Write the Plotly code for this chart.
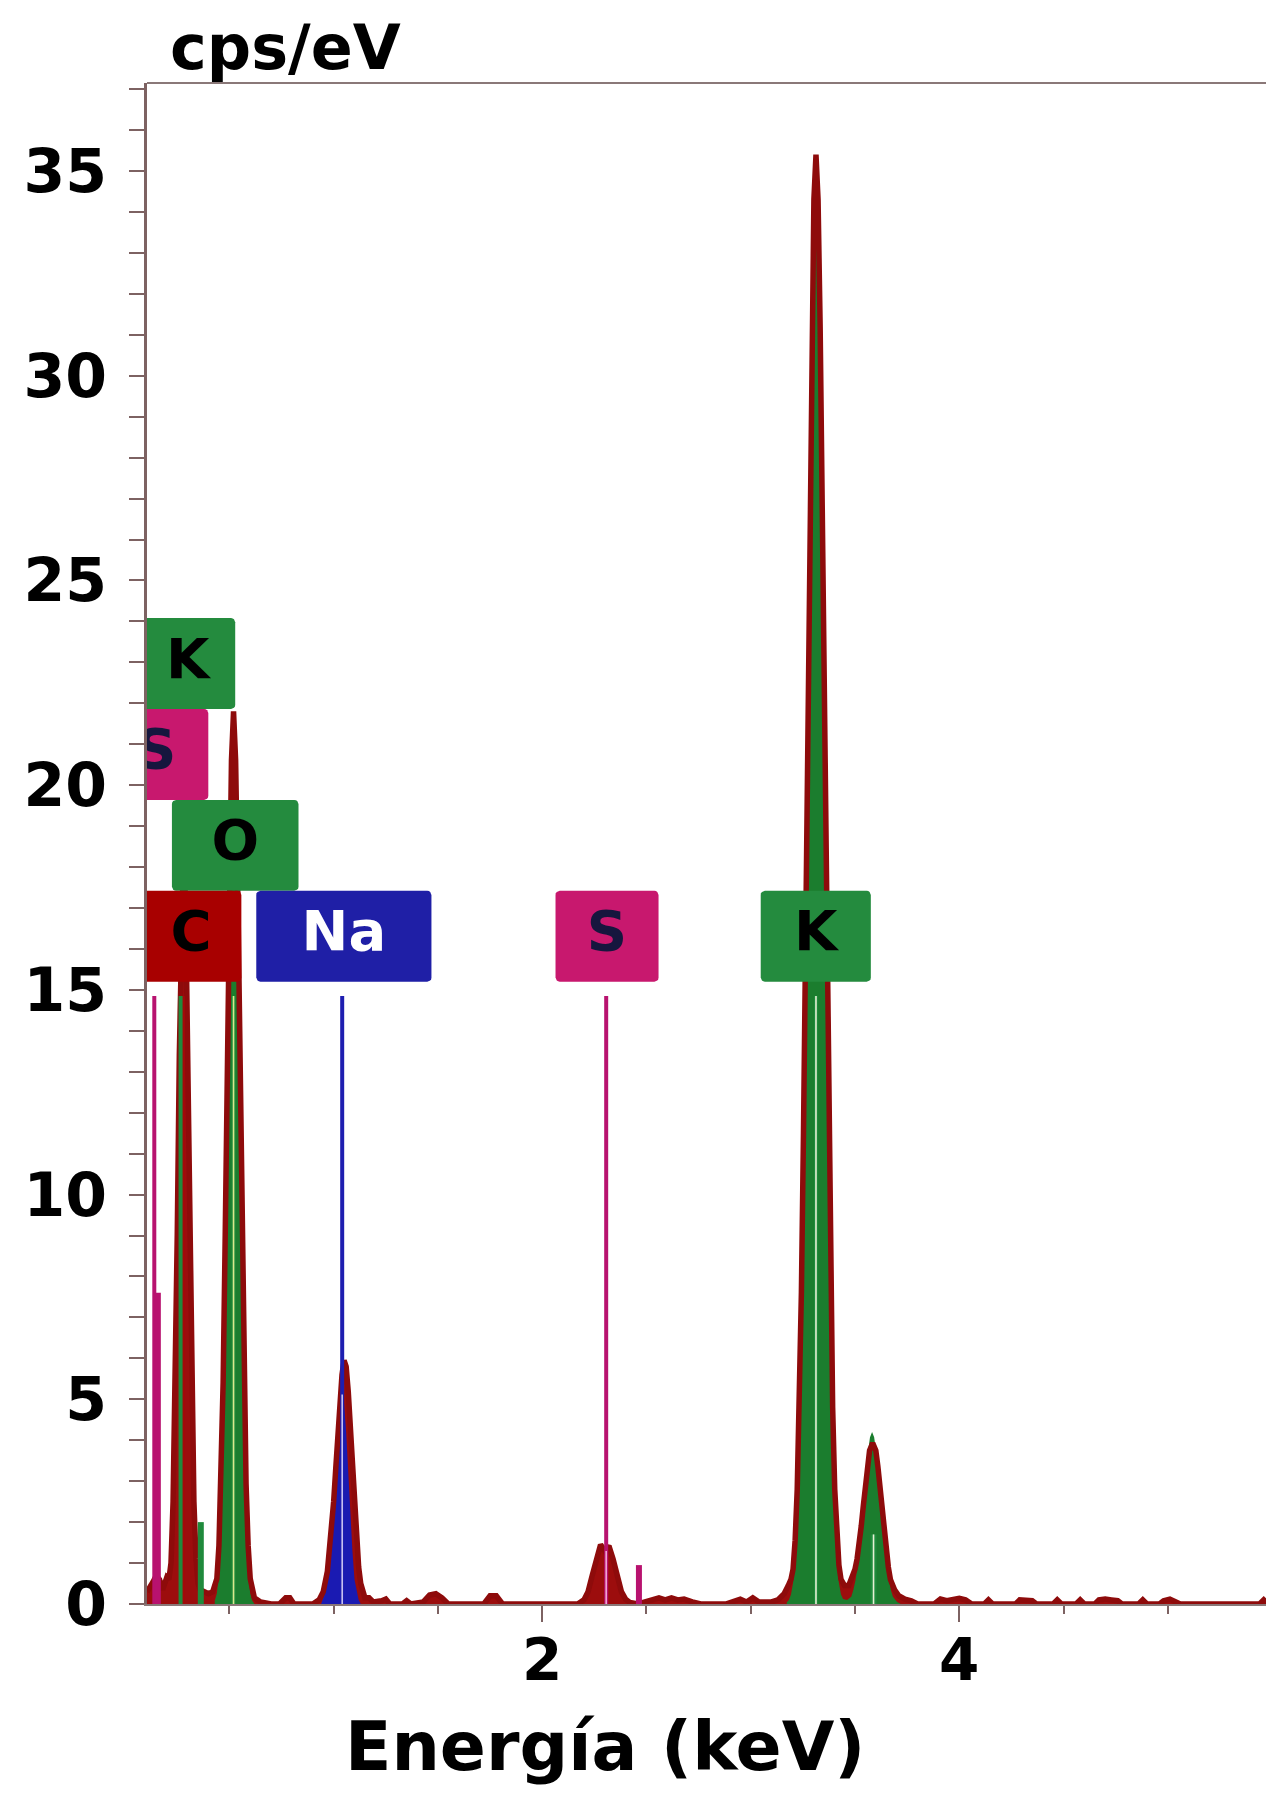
import numpy as np
import plotly.graph_objects as go

# ---------------- DATA ----------------
# Measured EDS spectrum: energy (keV) and intensity (cps/eV)
spec_energy = [0.105, 0.12, 0.135, 0.15, 0.165, 0.18, 0.19, 0.20, 0.21, 0.22,
               0.23, 0.24, 0.25, 0.26, 0.27, 0.28, 0.29, 0.30, 0.31, 0.32,
               0.33, 0.34, 0.35, 0.36, 0.38, 0.40, 0.42, 0.44, 0.45, 0.46,
               0.47, 0.48, 0.49, 0.50, 0.51, 0.52, 0.53, 0.54, 0.55, 0.56,
               0.57, 0.58, 0.59, 0.60, 0.62, 0.65, 0.70, 0.74, 0.77, 0.79,
               0.81, 0.90, 0.93, 0.95, 0.97, 0.99, 1.00, 1.01, 1.02, 1.03,
               1.04, 1.05, 1.06, 1.07, 1.08, 1.09, 1.10, 1.11, 1.12, 1.13,
               1.15, 1.17, 1.19, 1.23, 1.25, 1.27, 1.33, 1.35, 1.37, 1.43,
               1.46, 1.49, 1.52, 1.55, 1.72, 1.75, 1.78, 1.81, 2.17, 2.20,
               2.22, 2.24, 2.26, 2.28, 2.30, 2.32, 2.34, 2.36, 2.38, 2.40,
               2.42, 2.46, 2.50, 2.53, 2.56, 2.59, 2.62, 2.65, 2.68, 2.72,
               2.76, 2.88, 2.91, 2.95, 2.98, 3.01, 3.04, 3.10, 3.13, 3.16,
               3.18, 3.193, 3.203, 3.213, 3.223, 3.233, 3.243, 3.253, 3.263, 3.273,
               3.283, 3.293, 3.303, 3.313, 3.323, 3.333, 3.343, 3.353, 3.363, 3.373,
               3.383, 3.393, 3.403, 3.413, 3.423, 3.433, 3.45, 3.47, 3.49, 3.50,
               3.51, 3.52, 3.53, 3.54, 3.55, 3.56, 3.57, 3.585, 3.60, 3.61,
               3.62, 3.63, 3.64, 3.65, 3.66, 3.67, 3.69, 3.71, 3.74, 3.77,
               3.80, 3.88, 3.91, 3.94, 3.97, 4.00, 4.03, 4.06, 4.12, 4.14,
               4.16, 4.27, 4.29, 4.32, 4.35, 4.37, 4.45, 4.47, 4.49, 4.56,
               4.58, 4.60, 4.65, 4.67, 4.70, 4.73, 4.76, 4.78, 4.86, 4.88,
               4.90, 4.96, 4.98, 5.01, 5.04, 5.06, 5.44, 5.46, 5.48, 5.51]
spec_counts = [0.30, 0.40, 0.55, 0.70, 0.60, 0.35, 0.50, 0.65, 0.60, 1.00,
               2.50, 5.10, 9.00, 13.4, 17.1, 18.5, 17.1, 13.4, 9.00, 5.10,
               2.50, 1.10, 0.50, 0.35, 0.30, 0.25, 0.30, 0.62, 1.43, 2.95,
               5.40, 9.00, 13.2, 17.5, 20.6, 21.8, 20.6, 17.5, 13.2, 9.00,
               5.40, 2.95, 1.43, 0.62, 0.15, 0.05, 0.00, 0.00, 0.15, 0.15,
               0.00, 0.00, 0.10, 0.30, 0.80, 1.80, 2.50, 3.30, 4.10, 4.90,
               5.60, 5.95, 5.80, 5.20, 4.30, 3.30, 2.30, 1.50, 0.90, 0.50,
               0.15, 0.15, 0.05, 0.08, 0.12, 0.00, 0.00, 0.08, 0.00, 0.05,
               0.22, 0.25, 0.15, 0.00, 0.00, 0.20, 0.20, 0.00, 0.00, 0.10,
               0.30, 0.70, 1.15, 1.45, 1.30, 1.42, 1.10, 0.65, 0.30, 0.12,
               0.04, 0.00, 0.05, 0.12, 0.15, 0.10, 0.15, 0.10, 0.12, 0.05,
               0.00, 0.00, 0.05, 0.12, 0.05, 0.15, 0.05, 0.05, 0.10, 0.25,
               0.45, 0.60, 0.85, 1.56, 2.80, 4.80, 7.60, 11.5, 16.2, 21.5,
               26.7, 31.2, 34.3, 35.4, 34.3, 31.2, 26.7, 21.5, 16.2, 11.5,
               7.60, 4.80, 2.80, 1.60, 0.95, 0.60, 0.45, 0.45, 0.70, 0.85,
               1.10, 1.45, 1.90, 2.40, 2.95, 3.40, 3.75, 3.93, 3.75, 3.35,
               2.85, 2.25, 1.72, 1.25, 0.90, 0.60, 0.35, 0.20, 0.12, 0.08,
               0.00, 0.00, 0.12, 0.08, 0.12, 0.14, 0.10, 0.00, 0.00, 0.10,
               0.00, 0.00, 0.10, 0.10, 0.08, 0.00, 0.00, 0.10, 0.00, 0.00,
               0.10, 0.00, 0.00, 0.10, 0.12, 0.10, 0.08, 0.00, 0.00, 0.10,
               0.00, 0.00, 0.08, 0.12, 0.06, 0.00, 0.00, 0.10, 0.00, 0.00]

# Potassium fit (K-alpha + K-beta)
k_fit_energy = [3.173, 3.183, 3.193, 3.203, 3.213, 3.223, 3.233, 3.243, 3.253, 3.263,
                3.273, 3.283, 3.293, 3.303, 3.313, 3.323, 3.333, 3.343, 3.353, 3.363,
                3.373, 3.383, 3.393, 3.403, 3.413, 3.423, 3.433, 3.443, 3.462, 3.482,
                3.492, 3.502, 3.512, 3.522, 3.532, 3.542, 3.552, 3.562, 3.572, 3.582,
                3.592, 3.602, 3.612, 3.622, 3.632, 3.642, 3.652, 3.662, 3.672, 3.682,
                3.702, 3.72]
k_fit_counts = [0.04, 0.10, 0.23, 0.51, 1.05, 2.00, 3.65, 6.10, 9.60, 14.1,
                19.3, 24.5, 29.2, 32.4, 33.5, 32.4, 29.2, 24.5, 19.3, 14.1,
                9.60, 6.10, 3.65, 2.00, 1.05, 0.51, 0.23, 0.12, 0.10, 0.18,
                0.34, 0.57, 0.91, 1.37, 1.92, 2.55, 3.17, 3.70, 4.07, 4.20,
                4.07, 3.70, 3.17, 2.55, 1.92, 1.37, 0.91, 0.57, 0.34, 0.18,
                0.05, 0.00]

# Oxygen fit
o_fit_energy = [0.43, 0.44, 0.45, 0.46, 0.47, 0.48, 0.49, 0.50, 0.51, 0.52,
                0.53, 0.54, 0.55, 0.56, 0.57, 0.58, 0.59, 0.60, 0.61, 0.62]
o_fit_counts = [0.08, 0.26, 0.73, 1.78, 3.80, 7.00, 11.3, 16.0, 19.6, 21.0,
                19.6, 16.0, 11.3, 7.00, 3.80, 1.78, 0.73, 0.26, 0.08, 0.00]

# Sodium fit
na_fit_energy = [0.94, 0.96, 0.98, 0.99, 1.00, 1.01, 1.02, 1.03, 1.04, 1.05,
                 1.06, 1.07, 1.08, 1.09, 1.10, 1.12, 1.13]
na_fit_counts = [0.00, 0.30, 1.10, 1.80, 2.60, 3.50, 4.40, 5.00, 5.20, 4.90,
                 4.20, 3.20, 2.20, 1.30, 0.60, 0.10, 0.00]

# Element line markers
line_element = ["S", "S", "K", "C", "K", "O", "Na", "S", "S", "K", "K"]
line_energy = [0.140, 0.157, 0.266, 0.277, 0.363, 0.52, 1.041, 2.307, 2.464, 3.313, 3.589]
line_height = [14.85, 7.6, 14.85, 14.85, 2.0, 14.85, 14.85, 14.85, 0.95, 14.85, 1.7]

# Element labels
label_text = ["K", "S", "O", "C", "Na", "S", "K"]
label_energy = [0.30, 0.149, 0.528, 0.316, 1.049, 2.311, 3.312]
label_row = [3, 2, 1, 0, 0, 0, 0]

x_ticks_major = 2
x_ticks_minor = 0.5
y_ticks_major = 5
y_ticks_minor = 1

# ---------------- STYLE ----------------
# the page body adds an 8 px offset; the figure is sized to fit inside it
FIG_W, FIG_H = 1258, 1782
X_RANGE = [0.105, 5.471]
Y_RANGE = [0, 37.15]
FONT = "DejaVu Sans"
RED_LINE = "#8e0b0b"
RED_FILL = "#9c0d0d"
GREEN_FILL = "#1b7d2e"
BLUE_FILL = "#1a1ab2"
ELEM_LINE_COLOR = {"S": "#b8126f", "K": "#1f8a3c", "C": "#a30a0a", "O": "#1f8a3c", "Na": "#1e1eb0"}
ELEM_BOX_COLOR = {"S": "#c8186e", "K": "#248b3e", "C": "#a80000", "O": "#248b3e", "Na": "#1f1fa6"}
ELEM_TEXT_COLOR = {"S": "#16163e", "K": "#000000", "C": "#000000", "O": "#000000", "Na": "#ffffff"}
LABEL_BOX_WIDTH = [0.456, 0.50, 0.607, 0.483, 0.84, 0.494, 0.528]
ROW_BASE = 15.2
ROW_H = 2.22
AX_COLOR = "#7d6262"

fig = go.Figure()

# measured spectrum fill
fig.add_trace(go.Scatter(x=spec_energy, y=spec_counts, mode="lines", fill="tozeroy",
                         fillcolor=RED_FILL, line=dict(width=0, color=RED_FILL),
                         hoverinfo="skip", showlegend=False))
# element fits
for ex, ey, col in [(k_fit_energy, k_fit_counts, GREEN_FILL),
                    (o_fit_energy, o_fit_counts, GREEN_FILL),
                    (na_fit_energy, na_fit_counts, BLUE_FILL)]:
    fig.add_trace(go.Scatter(x=ex, y=ey, mode="lines", fill="tozeroy", fillcolor=col,
                             line=dict(width=0, color=col), hoverinfo="skip", showlegend=False))
# spectrum outline
fig.add_trace(go.Scatter(x=spec_energy, y=spec_counts, mode="lines",
                         line=dict(width=5.5, color=RED_LINE), hoverinfo="skip", showlegend=False))

# element line markers (main lines thinner, minor lines a bit wider)
for el in ["C", "K", "O", "Na", "S"]:
    for major in (True, False):
        xs, ys = [], []
        for e, x, h in zip(line_element, line_energy, line_height):
            if e == el and (h > 10) == major:
                xs += [x, x, None]
                ys += [0, h, None]
        if xs:
            fig.add_trace(go.Scatter(x=xs, y=ys, mode="lines",
                                     line=dict(width=4 if major else 6, color=ELEM_LINE_COLOR[el]),
                                     hoverinfo="skip", showlegend=False))

# light centre lines where a marker runs through a filled peak
fill_of = {"K": (k_fit_energy, k_fit_counts, "#e6f0d4"),
           "O": (o_fit_energy, o_fit_counts, "#d9e88c"),
           "Na": (na_fit_energy, na_fit_counts, "#c9c2f2")}
for e, x, h in zip(line_element, line_energy, line_height):
    if e in fill_of:
        fx, fy, lc = fill_of[e]
    elif e == "S" and x > 1:
        fx, fy, lc = spec_energy, spec_counts, "#f2a6d4"
    else:
        continue
    if x < fx[0] or x > fx[-1]:
        continue
    top = min(h, float(np.interp(x, fx, fy)) - 0.05)
    if top <= 0:
        continue
    fig.add_trace(go.Scatter(x=[x, x], y=[0, top], mode="lines",
                             line=dict(width=1.6, color=lc), hoverinfo="skip", showlegend=False))

# label boxes (rounded rectangles, clipped by the plot area)
rx, ry = 0.02, 0.10
for t, xc, row, w in zip(label_text, label_energy, label_row, LABEL_BOX_WIDTH):
    x0, x1 = xc - w / 2, xc + w / 2
    y0 = ROW_BASE + row * ROW_H
    y1 = y0 + ROW_H
    px, py = [], []
    for cx, cy, a0 in [(x1 - rx, y0 + ry, -90), (x1 - rx, y1 - ry, 0),
                       (x0 + rx, y1 - ry, 90), (x0 + rx, y0 + ry, 180)]:
        for a in np.radians(np.linspace(a0, a0 + 90, 5)):
            px.append(cx + rx * np.cos(a))
            py.append(cy + ry * np.sin(a))
    px.append(px[0]); py.append(py[0])
    fig.add_trace(go.Scatter(x=px, y=py, mode="lines", fill="toself",
                             fillcolor=ELEM_BOX_COLOR[t], line=dict(width=0, color=ELEM_BOX_COLOR[t]),
                             hoverinfo="skip", showlegend=False))

fig.add_trace(go.Scatter(
    x=label_energy,
    y=[ROW_BASE + r * ROW_H + ROW_H / 2 for r in label_row],
    mode="text", text=label_text, textposition="middle center",
    textfont=dict(family=FONT, size=56, weight="bold",
                  color=[ELEM_TEXT_COLOR[t] for t in label_text]),
    hoverinfo="skip", showlegend=False))

fig.update_layout(
    width=FIG_W, height=FIG_H, autosize=False,
    margin=dict(l=139, r=0, t=75, b=186),
    paper_bgcolor="white", plot_bgcolor="white",
    font=dict(family=FONT, color="black"),
    showlegend=False,
)
fig.update_xaxes(
    range=X_RANGE, showgrid=False, zeroline=False,
    showline=True, linecolor="#8a7878", linewidth=2,
    ticks="outside", tick0=0, dtick=x_ticks_major, ticklen=16, tickwidth=2, tickcolor=AX_COLOR,
    tickfont=dict(family=FONT, size=58, weight="bold", color="black"),
    ticklabelstandoff=-12,
    minor=dict(ticks="outside", tick0=0, dtick=x_ticks_minor, ticklen=8, tickwidth=2,
               tickcolor=AX_COLOR, showgrid=False),
)
fig.update_yaxes(
    range=Y_RANGE, showgrid=False, zeroline=False,
    showline=True, linecolor=AX_COLOR, linewidth=3,
    ticks="outside", tick0=0, dtick=y_ticks_major, ticklen=15, tickwidth=2, tickcolor=AX_COLOR,
    tickfont=dict(family=FONT, size=60, weight="bold", color="black"),
    ticklabelstandoff=10,
    minor=dict(ticks="outside", tick0=0, dtick=y_ticks_minor, ticklen=15, tickwidth=2,
               tickcolor=AX_COLOR, showgrid=False),
)
# top frame line
fig.add_shape(type="line", xref="paper", yref="paper", x0=0, x1=1, y0=1, y1=1,
              line=dict(color="#8a7878", width=2))

fig.add_annotation(text="cps/eV", xref="paper", yref="paper", x=0.0188, y=1.0232,
                   xanchor="left", yanchor="middle", showarrow=False,
                   font=dict(family=FONT, size=62, weight="bold", color="black"))
fig.add_annotation(text="Energía (keV)", xref="paper", yref="paper", x=0.409, y=-0.0935,
                   xanchor="center", yanchor="middle", showarrow=False,
                   font=dict(family=FONT, size=68, weight="bold", color="black"))

fig.write_html("out.html", config={"displayModeBar": False})
